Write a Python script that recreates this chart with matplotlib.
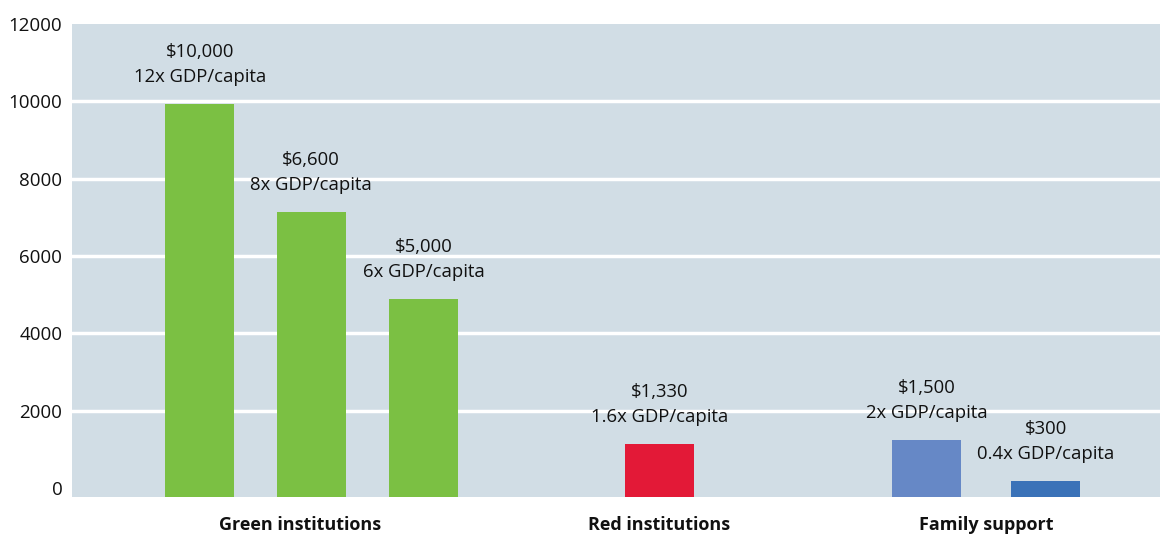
import matplotlib.pyplot as plt

# values (bar heights follow the drawn bars)
groups = ["Green institutions", "Red institutions", "Family support"]
values = [9940, 7150, 4880, 1140, 1240, 180]
amounts = ["$10,000", "$6,600", "$5,000", "$1,330", "$1,500", "$300"]
ratios = ["12x GDP/capita", "8x GDP/capita", "6x GDP/capita",
          "1.6x GDP/capita", "2x GDP/capita", "0.4x GDP/capita"]
yticks = [0, 2000, 4000, 6000, 8000, 10000, 12000]

# layout
pos = [0, 1, 2.004, 4.117, 6.511, 7.578]
group_pos = [0.9, 4.117, 7.045]
colors = ["#7bc043", "#7bc043", "#7bc043", "#e31937", "#6688c6", "#3a72b8"]
ymin = -230

plt.rcParams["font.family"] = ["Open Sans", "DejaVu Sans"]

fig = plt.figure(figsize=(11.63, 5.34), dpi=100)
ax = fig.add_axes([72 / 1163, 37 / 534, 1088 / 1163, 473 / 534])
ax.set_facecolor("#d1dde5")

for y in yticks[1:-1]:
    ax.axhline(y, color="white", lw=2.5, zorder=1)

ax.bar(pos, [v - ymin for v in values], bottom=ymin, width=0.62,
       color=colors, zorder=2)

for x, v, a, r in zip(pos, values, amounts, ratios):
    ax.annotate(a + "\n" + r, (x, v), xytext=(0, 13), textcoords="offset points",
                ha="center", va="bottom", fontsize=13.3, linespacing=1.5,
                color="#111111")

ax.set_xlim(-1.143, 8.6)
ax.set_ylim(ymin, 12000)
ax.set_yticks(yticks)
ax.set_yticklabels([str(t) for t in yticks], fontsize=13.5, color="#111111")
ax.set_xticks(group_pos)
ax.set_xticklabels(groups, fontsize=13, fontweight="bold", color="#111111")
ax.tick_params(length=0)
ax.tick_params(axis="y", pad=7)
ax.tick_params(axis="x", pad=14)
for s in ax.spines.values():
    s.set_visible(False)

fig.savefig("out.png", dpi=100)
